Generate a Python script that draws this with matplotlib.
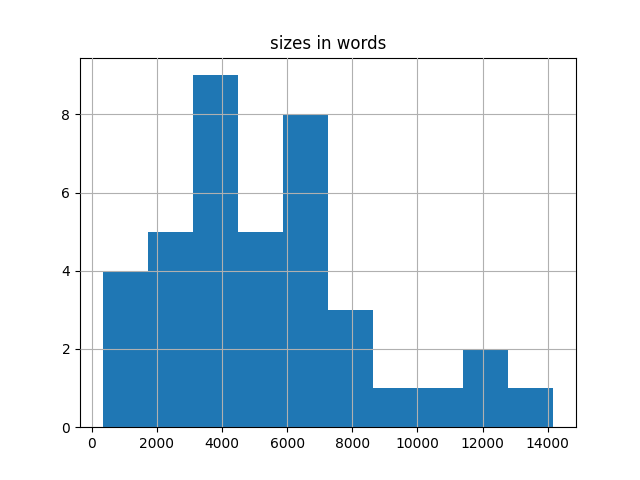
import matplotlib
matplotlib.use('Agg')
import matplotlib.pyplot as plt

# document sizes (words)
sizes = [330, 800, 1200, 1500,
         1900, 2200, 2500, 2700, 2900,
         3200, 3400, 3500, 3700, 3800, 3900, 4100, 4200, 4400,
         4600, 4900, 5200, 5500, 5700,
         5900, 6000, 6200, 6300, 6500, 6700, 6900, 7100,
         7500, 7900, 8300,
         9200,
         10500,
         11600, 12300,
         14175]

fig, ax = plt.subplots(figsize=(6.4, 4.8), dpi=100)
ax.hist(sizes, bins=10, color='#1f77b4')
ax.grid(True)
ax.set_axisbelow(False)
ax.set_title('sizes in words')
fig.savefig('out.png')
